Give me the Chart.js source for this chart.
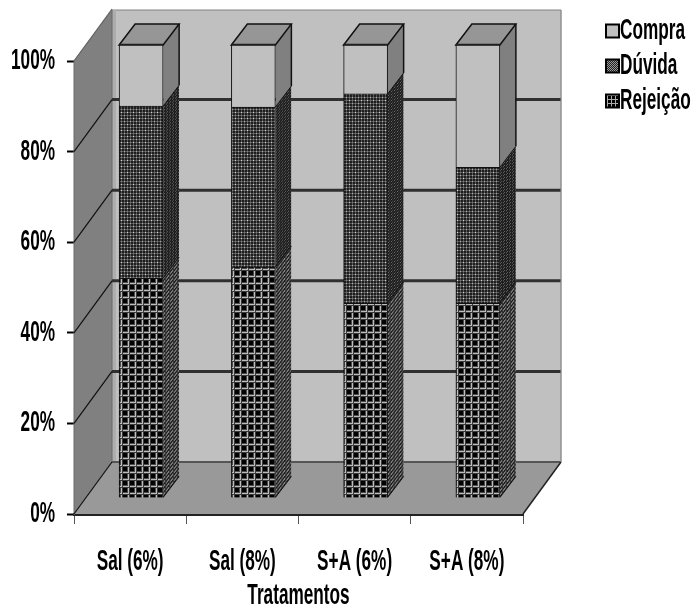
<!DOCTYPE html>
<html><head><meta charset="utf-8">
<style>html,body{margin:0;padding:0;background:#fff}canvas{display:block}</style>
<script src="https://cdn.jsdelivr.net/npm/chart.js@4"></script>
</head><body><canvas id="c" width="692" height="606"></canvas>
<script>
const categories = ['Sal (6%)','Sal (8%)','S+A (6%)','S+A (8%)'];
const seriesNames = ['Rejeição','Dúvida','Compra'];
const rejeicao = [48.5,51,43,43];
const duvida = [38,35.3,46.2,30];
const compra = [13.5,13.7,10.8,27];
const yTicks = [0,20,40,60,80,100];
const FONT = '"Liberation Sans",Arial,sans-serif';
const TEXT_SX=0.86, TEXT_SY=1.45, LEGEND_SHIFT=-9;

function tile(w,h,draw){const c=document.createElement('canvas');c.width=w;c.height=h;const g=c.getContext('2d');draw(g);return document.createElement('canvas').getContext('2d').createPattern(c,'repeat');}
const gridPat = tile(7,7,g=>{g.fillStyle='#000';g.fillRect(0,0,7,7);g.fillStyle='#4a4a4a';g.fillRect(0,4,7,1);g.fillRect(4,0,1,7);g.fillStyle='#bdbdbd';g.fillRect(0,5,7,1);g.fillRect(5,0,1,7);g.fillStyle='#3a3a3a';g.fillRect(0,6,7,1);g.fillRect(6,0,1,7);g.fillStyle='#bdbdbd';g.fillRect(5,5,1,1);});
const dotPat = tile(6,6,g=>{g.fillStyle='#1e1e1e';g.fillRect(0,0,6,6);g.fillStyle='#565656';g.fillRect(0,2,6,1);g.fillRect(2,0,1,6);g.fillRect(0,5,6,1);g.fillRect(5,0,1,6);g.fillStyle='#d0d0d0';g.fillRect(2,2,1,1);g.fillStyle='#a8a8a8';g.fillRect(5,5,1,1);g.fillStyle='#808080';g.fillRect(5,2,1,1);g.fillRect(2,5,1,1);});
const gridSide = tile(4,4,g=>{g.fillStyle='#1c1c1c';g.fillRect(0,0,4,4);g.fillStyle='#808080';g.fillRect(0,2,4,2);g.fillStyle='#333';g.fillRect(2,0,1,4);});
const dotSide = tile(3,3,g=>{g.fillStyle='#1c1c1c';g.fillRect(0,0,3,3);g.fillStyle='#6e6e6e';g.fillRect(0,0,2,1);});
const gridMini = tile(4,4,g=>{g.fillStyle='#000';g.fillRect(0,0,4,4);g.fillStyle='#aaa';g.fillRect(0,3,4,1);g.fillRect(3,0,1,4);});
const dotMini = tile(2,2,g=>{g.fillStyle='#222';g.fillRect(0,0,2,2);g.fillStyle='#999';g.fillRect(0,0,1,1);g.fillRect(1,1,1,1);});

const WALL_DX=38, WALL_DY=52, BAR_DX=11, BAR_DY=16, SIDE_DX=16, SIDE_DY=21;
function poly(ctx,pts,fill,stroke,lw){ctx.beginPath();pts.forEach((p,i)=>i?ctx.lineTo(p[0],p[1]):ctx.moveTo(p[0],p[1]));ctx.closePath();if(fill){ctx.fillStyle=fill;ctx.fill();}if(stroke){ctx.strokeStyle=stroke;ctx.lineWidth=lw||1;ctx.stroke();}}

// Arial-Narrow look: text is stretched around its own anchor
const cv=document.getElementById('c'), c2=cv.getContext('2d');
const origFill=c2.fillText.bind(c2);
c2.fillText=function(t,x,y,m){
  const lx=seriesNames.includes(t)?x+LEGEND_SHIFT:x;
  c2.save();c2.translate(lx,y);c2.scale(TEXT_SX,TEXT_SY);origFill(t,0,0);c2.restore();
};

const scene = {
  id:'scene',
  beforeLayout(chart){
    const lg=chart.legend;
    if(lg && !lg._wrapped){const f=lg.fit.bind(lg);lg.fit=function(){f();this.width=169;};lg._wrapped=true;}
  },
  afterLayout(chart){
    const lg=chart.legend;
    if(lg){lg.left=591;lg.right=692;lg.top=6;lg.bottom=606;lg.adjustHitBoxes();}
  },
  beforeDatasetsDraw(chart){
    const {ctx,chartArea:a,scales:{y}}=chart;
    ctx.save();
    const L=a.left,R=a.right,T=a.top,B=a.bottom,dx=WALL_DX,dy=WALL_DY;
    // back wall
    poly(ctx,[[L+dx,T-dy+1],[R+dx,T-dy+1],[R+dx,B-dy],[L+dx,B-dy]],'#c0c0c0','#808080',1);
    ctx.fillStyle='#adadad';ctx.fillRect(L+dx,T-dy+1,4,B-T);
    // left wall
    poly(ctx,[[L,T],[L+dx,T-dy+1],[L+dx,B-dy],[L,B]],'#808080','#6a6a6a',1);
    // floor
    poly(ctx,[[L,B],[L+dx,B-dy],[R+dx,B-dy],[R,B]],'#999999',null);
    // grid lines
    yTicks.forEach(v=>{
      const p=y.getPixelForValue(v);
      if(v>0&&v<100){
        ctx.strokeStyle='#303030';ctx.lineWidth=3;ctx.beginPath();ctx.moveTo(L+dx,p-dy);ctx.lineTo(R+dx,p-dy);ctx.stroke();
      }
      if(v===0){ctx.strokeStyle='#555';ctx.lineWidth=2;ctx.beginPath();ctx.moveTo(L+dx,p-dy);ctx.lineTo(R+dx,p-dy);ctx.stroke();}
      ctx.strokeStyle=v===100?'#666':'#111';ctx.lineWidth=1.2;
      ctx.beginPath();ctx.moveTo(L,p);ctx.lineTo(L+dx,p-dy);ctx.stroke();
    });
    // right floor edge
    ctx.strokeStyle='#222';ctx.lineWidth=1.5;ctx.beginPath();ctx.moveTo(R,B);ctx.lineTo(R+dx,B-dy);ctx.stroke();
    ctx.strokeStyle='#999';ctx.lineWidth=1;ctx.beginPath();ctx.moveTo(R+dx,T-dy+1);ctx.lineTo(R+dx,B-dy);ctx.stroke();

    // side and top faces of the bars
    const sides=[gridSide,dotSide,'#808080'];
    chart.data.datasets.forEach((ds,di)=>{
      chart.getDatasetMeta(di).data.forEach(el=>{
        const xr=el.x+el.width/2+BAR_DX, yt=el.y-BAR_DY, yb=el.base-BAR_DY;
        ctx.save();
        ctx.beginPath();
        ctx.moveTo(xr,yt);ctx.lineTo(xr+SIDE_DX,yt-SIDE_DY);ctx.lineTo(xr+SIDE_DX,yb-SIDE_DY);ctx.lineTo(xr,yb);ctx.closePath();
        ctx.clip();
        ctx.transform(1,-SIDE_DY/SIDE_DX,0,1,xr,0);
        ctx.fillStyle=sides[di];
        ctx.fillRect(0,yt-2,SIDE_DX,yb-yt+SIDE_DY+6);
        ctx.restore();
        if(di===2){
          const xl=el.x-el.width/2+BAR_DX;
          poly(ctx,[[xl,yt],[xl+SIDE_DX,yt-SIDE_DY],[xr+SIDE_DX,yt-SIDE_DY],[xr,yt]],'#969696','#111',1.5);
          ctx.strokeStyle='#111';ctx.lineWidth=1.5;
          ctx.beginPath();ctx.moveTo(xr+SIDE_DX,yt-SIDE_DY);ctx.lineTo(xr+SIDE_DX,yb-SIDE_DY);ctx.stroke();
          ctx.strokeStyle='#222';ctx.lineWidth=2.5;
          ctx.beginPath();ctx.moveTo(xl,yt);ctx.lineTo(xr,yt);ctx.stroke();
        }
        ctx.strokeStyle='#111';ctx.lineWidth=1;
        ctx.beginPath();ctx.moveTo(xr,yb);ctx.lineTo(xr+SIDE_DX,yb-SIDE_DY);ctx.stroke();
      });
    });
    ctx.restore();
    ctx.save();
    ctx.translate(BAR_DX,-BAR_DY);
  },
  afterDatasetsDraw(chart){ chart.ctx.restore(); }
};

new Chart(cv,{
  type:'bar',
  data:{labels:categories,datasets:[
    {label:seriesNames[0],data:rejeicao,backgroundColor:gridPat,borderColor:'#111',borderWidth:1,barThickness:44,clip:false},
    {label:seriesNames[1],data:duvida,backgroundColor:dotPat,borderColor:'#111',borderWidth:1,barThickness:44,clip:false},
    {label:seriesNames[2],data:compra,backgroundColor:'#c0c0c0',borderColor:'#111',borderWidth:1,barThickness:44,clip:false}
  ]},
  plugins:[scene],
  options:{
    responsive:false,animation:false,
    layout:{padding:{top:61,left:0,right:0,bottom:0}},
    scales:{
      x:{stacked:true,
        afterFit(s){s.height=92;},
        grid:{drawOnChartArea:false,tickLength:10,tickColor:'#555',tickWidth:1},
        border:{color:'#222',width:3},
        ticks:{color:'#000',padding:26,maxRotation:0,font:{family:FONT,weight:'bold',size:20}},
        title:{display:true,text:'Tratamentos',color:'#000',padding:{top:0,bottom:-2},font:{family:FONT,weight:'bold',size:20}}
      },
      y:{stacked:true,min:0,max:100,
        afterFit(s){s.width=74;},
        afterBuildTicks(s){s.ticks=yTicks.map(v=>({value:v}));},
        grid:{drawOnChartArea:false,tickLength:7,tickColor:'#000',tickWidth:2},
        border:{color:'#666',width:1},
        ticks:{color:'#000',padding:12,callback:v=>v+'%',font:{family:FONT,weight:'bold',size:20}}
      }
    },
    plugins:{
      tooltip:{enabled:false},
      legend:{display:true,position:'right',align:'start',
        labels:{color:'#000',boxWidth:13,boxHeight:13,padding:15,
          font:{family:FONT,weight:'bold',size:20},
          generateLabels(chart){
            const items=Chart.defaults.plugins.legend.labels.generateLabels(chart);
            const mini=[gridMini,dotMini,'#c0c0c0'];
            items.forEach(it=>{it.fillStyle=mini[it.datasetIndex];it.strokeStyle='#000';it.lineWidth=2;});
            return items.reverse();
          }
        }
      }
    }
  }
});
</script></body></html>
